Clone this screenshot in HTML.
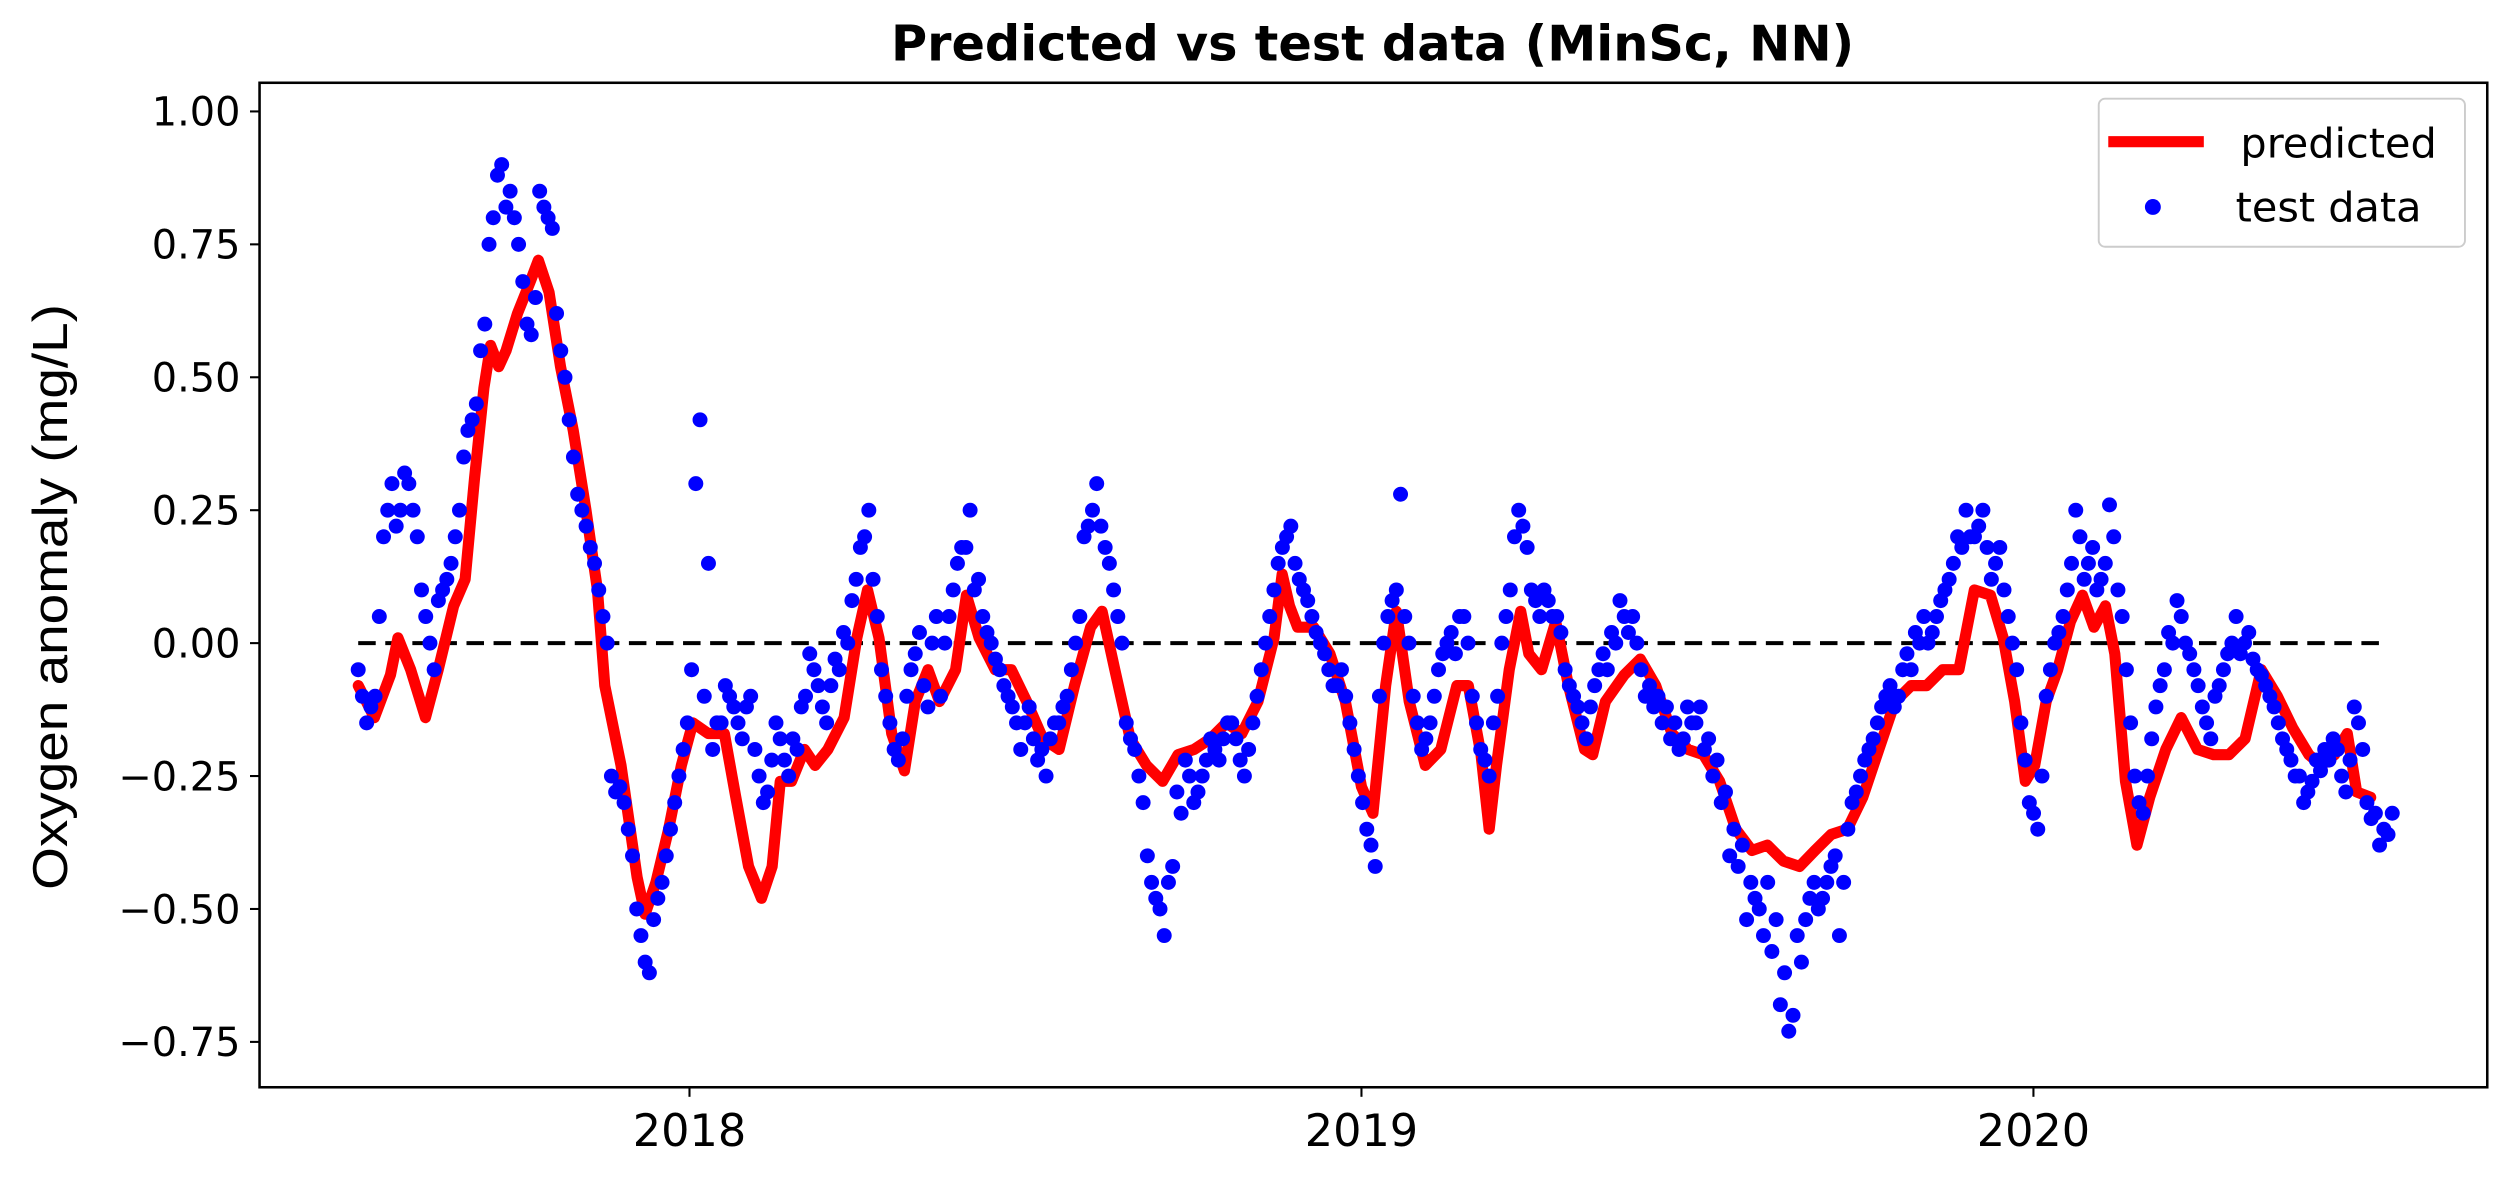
<!DOCTYPE html>
<html><head><meta charset="utf-8"><title>Predicted vs test data</title>
<style>html,body{margin:0;padding:0;background:#fff;}svg{display:block;}</style></head>
<body>
<svg id="chart" width="2500" height="1178" viewBox="0 0 1570 740" preserveAspectRatio="none" xmlns="http://www.w3.org/2000/svg" font-family="'DejaVu Sans','Liberation Sans',sans-serif">
<rect x="0" y="0" width="1570" height="740" fill="#fff"/>
<text x="862" y="38" text-anchor="middle" font-size="31" font-weight="bold">Predicted vs test data (MinSc, NN)</text>
<text transform="translate(42,375) rotate(-90)" text-anchor="middle" font-size="31" textLength="368" lengthAdjust="spacingAndGlyphs" font-family="'Liberation Sans',sans-serif">Oxygen anomaly (mg/L)</text>
<g id="yticks"></g>
<g id="xticks"></g>
<g id="plot"></g>
<rect x="163" y="52" width="1399" height="631" fill="none" stroke="#000" stroke-width="1.6"/>
<g>
<rect x="1318" y="62" width="230" height="93" rx="4" fill="#fff" stroke="#ccc" stroke-width="1.2"/>
<line x1="1324" y1="89" x2="1384" y2="89" stroke="#f00" stroke-width="7"/>
<text x="1407" y="99" font-size="26">predicted</text>
<circle cx="1352" cy="130" r="5" fill="#00f"/>
<text x="1404" y="139" font-size="26">test data</text>
</g>
</svg>
<script>
const yTickValues=[1.0,0.75,0.5,0.25,0,-0.25,-0.5,-0.75];
const yTickLabels=["1.00","0.75","0.50","0.25","0.00","\u22120.25","\u22120.50","\u22120.75"];
const xTickValues=[2018,2019,2020];
const xTickLabels=["2018","2019","2020"];
const predT=[2017.507,2017.531,2017.555,2017.566,2017.585,2017.607,2017.626,2017.649,2017.666,2017.680,2017.694,2017.704,2017.716,2017.727,2017.744,2017.763,2017.775,2017.791,2017.808,2017.827,2017.846,2017.863,2017.874,2017.898,2017.922,2017.934,2017.950,2017.969,2017.988,2018.005,2018.028,2018.052,2018.069,2018.088,2018.107,2018.123,2018.135,2018.152,2018.171,2018.187,2018.206,2018.230,2018.249,2018.265,2018.282,2018.301,2018.320,2018.336,2018.355,2018.372,2018.396,2018.412,2018.431,2018.455,2018.479,2018.502,2018.526,2018.550,2018.573,2018.597,2018.614,2018.633,2018.656,2018.680,2018.704,2018.727,2018.751,2018.775,2018.799,2018.822,2018.846,2018.870,2018.882,2018.893,2018.905,2018.929,2018.953,2018.976,2019.000,2019.017,2019.036,2019.052,2019.071,2019.095,2019.118,2019.142,2019.159,2019.178,2019.190,2019.201,2019.220,2019.237,2019.249,2019.268,2019.289,2019.308,2019.332,2019.344,2019.363,2019.391,2019.415,2019.438,2019.462,2019.486,2019.509,2019.533,2019.557,2019.581,2019.604,2019.628,2019.652,2019.675,2019.699,2019.723,2019.746,2019.770,2019.794,2019.818,2019.841,2019.865,2019.889,2019.912,2019.936,2019.955,2019.972,2019.988,2020.002,2020.019,2020.036,2020.055,2020.073,2020.090,2020.107,2020.121,2020.137,2020.154,2020.173,2020.197,2020.220,2020.244,2020.268,2020.291,2020.315,2020.339,2020.363,2020.386,2020.410,2020.429,2020.448,2020.467,2020.481,2020.502,2020.528];
const predV=[-0.08,-0.14,-0.06,0.01,-0.05,-0.14,-0.05,0.07,0.12,0.31,0.48,0.56,0.52,0.55,0.62,0.68,0.72,0.66,0.52,0.40,0.25,0.10,-0.08,-0.23,-0.44,-0.51,-0.45,-0.35,-0.23,-0.15,-0.17,-0.17,-0.29,-0.42,-0.48,-0.42,-0.26,-0.26,-0.20,-0.23,-0.20,-0.14,0.01,0.10,0.01,-0.17,-0.24,-0.11,-0.05,-0.11,-0.05,0.09,0.01,-0.05,-0.05,-0.11,-0.18,-0.20,-0.08,0.03,0.06,-0.05,-0.18,-0.23,-0.26,-0.21,-0.20,-0.18,-0.15,-0.17,-0.11,0.01,0.13,0.07,0.03,0.03,-0.02,-0.11,-0.27,-0.32,-0.08,0.06,-0.11,-0.23,-0.20,-0.08,-0.08,-0.21,-0.35,-0.23,-0.05,0.06,-0.02,-0.05,0.04,-0.08,-0.20,-0.21,-0.11,-0.06,-0.03,-0.08,-0.17,-0.20,-0.21,-0.26,-0.35,-0.39,-0.38,-0.41,-0.42,-0.39,-0.36,-0.35,-0.29,-0.20,-0.11,-0.08,-0.08,-0.05,-0.05,0.10,0.09,0.01,-0.11,-0.26,-0.23,-0.11,-0.05,0.04,0.09,0.03,0.07,-0.02,-0.26,-0.38,-0.29,-0.20,-0.14,-0.20,-0.21,-0.21,-0.18,-0.05,-0.10,-0.16,-0.21,-0.23,-0.21,-0.17,-0.28,-0.29];
const testStart=2017.507;
const testStep=0.01256;
const testV=[-0.05,-0.15,-0.10,0.20,0.30,0.25,0.30,0.20,0.05,-0.05,0.10,0.15,0.25,0.40,0.45,0.60,0.80,0.90,0.85,0.75,0.60,0.65,0.82,0.78,0.55,0.42,0.28,0.22,0.15,0.05,-0.25,-0.27,-0.35,-0.50,-0.60,-0.52,-0.45,-0.35,-0.25,-0.15,0.30,-0.10,-0.20,-0.15,-0.10,-0.15,-0.12,-0.20,-0.30,-0.22,-0.18,-0.25,-0.20,-0.10,-0.05,-0.12,-0.08,-0.05,0.00,0.12,0.20,0.12,-0.05,-0.15,-0.22,-0.10,-0.02,-0.08,0.00,-0.10,0.05,0.15,0.18,0.10,0.05,0.00,-0.05,-0.10,-0.15,-0.15,-0.18,-0.20,-0.18,-0.15,-0.10,0.00,0.20,0.25,0.22,0.15,0.05,-0.15,-0.20,-0.30,-0.45,-0.50,-0.45,-0.28,-0.22,-0.30,-0.25,-0.18,-0.22,-0.15,-0.18,-0.25,-0.15,-0.05,0.05,0.15,0.20,0.15,0.10,0.05,0.00,-0.05,-0.08,-0.10,-0.20,-0.30,-0.38,-0.10,0.05,0.10,0.05,-0.10,-0.20,-0.15,-0.05,0.00,-0.02,0.05,-0.10,-0.20,-0.25,-0.10,0.05,0.20,0.22,0.10,0.05,0.08,0.05,-0.05,-0.10,-0.15,-0.12,-0.05,-0.05,0.00,0.05,0.05,-0.05,-0.08,-0.10,-0.12,-0.15,-0.18,-0.15,-0.12,-0.18,-0.22,-0.28,-0.35,-0.38,-0.45,-0.50,-0.45,-0.52,-0.62,-0.70,-0.60,-0.48,-0.50,-0.45,-0.40,-0.45,-0.30,-0.25,-0.20,-0.15,-0.10,-0.12,-0.05,-0.05,0.00,0.00,0.05,0.10,0.15,0.18,0.20,0.22,0.18,0.15,0.10,0.00,-0.15,-0.30,-0.35,-0.10,0.00,0.05,0.15,0.20,0.15,0.10,0.15,0.20,0.05,-0.15,-0.30,-0.25,-0.12,-0.05,0.00,0.05,-0.02,-0.08,-0.15,-0.10,-0.05,0.00,-0.02,0.02,-0.05,-0.08,-0.12,-0.18,-0.22,-0.25,-0.28,-0.22,-0.20,-0.18,-0.25,-0.22,-0.15,-0.30,-0.32,-0.35,-0.32];
const testV2=[-0.10,-0.12,0.05,0.25,0.22,0.32,0.25,0.10,0.00,0.08,0.12,0.20,0.35,0.42,0.55,0.75,0.88,0.82,0.80,0.68,0.58,0.85,0.80,0.62,0.50,0.35,0.25,0.18,0.10,0.00,-0.28,-0.30,-0.40,-0.55,-0.62,-0.48,-0.40,-0.30,-0.20,-0.05,0.42,0.15,-0.15,-0.08,-0.12,-0.18,-0.10,-0.25,-0.28,-0.15,-0.22,-0.18,-0.12,-0.02,-0.08,-0.15,-0.03,0.02,0.08,0.18,0.25,0.05,-0.10,-0.20,-0.18,-0.05,0.02,-0.12,0.05,0.00,0.10,0.18,0.25,0.12,0.02,-0.03,-0.08,-0.12,-0.20,-0.12,-0.22,-0.25,-0.15,-0.12,-0.05,0.05,0.22,0.30,0.18,0.10,0.00,-0.18,-0.25,-0.40,-0.48,-0.55,-0.42,-0.32,-0.25,-0.28,-0.22,-0.20,-0.18,-0.15,-0.22,-0.20,-0.10,0.00,0.10,0.18,0.22,0.12,0.08,0.02,-0.02,-0.08,-0.05,-0.15,-0.25,-0.35,-0.42,0.00,0.08,0.28,0.00,-0.15,-0.18,-0.10,-0.02,0.02,0.05,0.00,-0.15,-0.22,-0.15,0.00,0.10,0.25,0.18,0.08,0.10,0.05,0.02,-0.08,-0.12,-0.18,-0.08,-0.02,0.02,0.08,0.02,0.00,-0.10,-0.12,-0.15,-0.18,-0.20,-0.12,-0.15,-0.20,-0.25,-0.30,-0.40,-0.42,-0.52,-0.48,-0.55,-0.58,-0.68,-0.73,-0.55,-0.52,-0.45,-0.48,-0.42,-0.55,-0.35,-0.28,-0.22,-0.18,-0.12,-0.08,-0.10,-0.02,0.02,0.05,0.02,0.08,0.12,0.20,0.25,0.20,0.25,0.12,0.18,0.05,-0.05,-0.22,-0.32,-0.25,-0.05,0.02,0.10,0.25,0.12,0.18,0.12,0.26,0.10,-0.05,-0.25,-0.32,-0.18,-0.08,0.02,0.08,0.00,-0.05,-0.12,-0.18,-0.08,-0.02,0.05,0.00,-0.03,-0.06,-0.10,-0.15,-0.20,-0.25,-0.30,-0.26,-0.24,-0.22,-0.20,-0.28,-0.12,-0.20,-0.33,-0.38,-0.36];

const NS='http://www.w3.org/2000/svg';
function xScale(t){return 433+(t-2018)*422;}
function yScale(v){return 404-v*334;}
function mk(tag,attrs,parent){const e=document.createElementNS(NS,tag);for(const k in attrs)e.setAttribute(k,attrs[k]);parent.appendChild(e);return e;}

const yg=document.getElementById('yticks');
yTickValues.forEach((v,i)=>{
  const y=yScale(v);
  const tk=mk('line',{x1:157,x2:163,y1:y,y2:y,stroke:'#000','stroke-width':1.3},yg);
  
  
  const tx=mk('text',{x:151,y:y+9,'text-anchor':'end','font-size':25},yg);
  tx.textContent=yTickLabels[i];
  
  
});
const xg=document.getElementById('xticks');
xTickValues.forEach((v,i)=>{
  const x=xScale(v);
  const tk=mk('line',{x1:x,x2:x,y1:683,y2:689,stroke:'#000','stroke-width':1.3},xg);
  
  
  const tx=mk('text',{x:x,y:720,'text-anchor':'middle','font-size':28},xg);
  tx.textContent=xTickLabels[i];
  
  
});

const pg=document.getElementById('plot');
const zl=mk('line',{x1:xScale(predT[0]),x2:xScale(predT[predT.length-1]),y1:yScale(0),y2:yScale(0),stroke:'#000','stroke-width':2.5,'stroke-dasharray':'11,6'},pg);



const pts=predT.map((t,i)=>xScale(t).toFixed(1)+','+yScale(predV[i]).toFixed(1)).join(' ');
const pl=mk('polyline',{points:pts,fill:'none',stroke:'#f00','stroke-width':7,'stroke-linejoin':'round','stroke-linecap':'round'},pg);



const sg=mk('g',{},pg);


testV.forEach((v,i)=>{
  const t=testStart+i*testStep;
  const c=mk('circle',{cx:xScale(t),cy:yScale(v),r:4.7,fill:'#00f'},sg);
  
  
});
testV2.forEach((v,i)=>{
  const t=testStart+(i+0.5)*testStep;
  const c=mk('circle',{cx:xScale(t),cy:yScale(v),r:4.7,fill:'#00f'},sg);
  
  
});
</script>
</body></html>
